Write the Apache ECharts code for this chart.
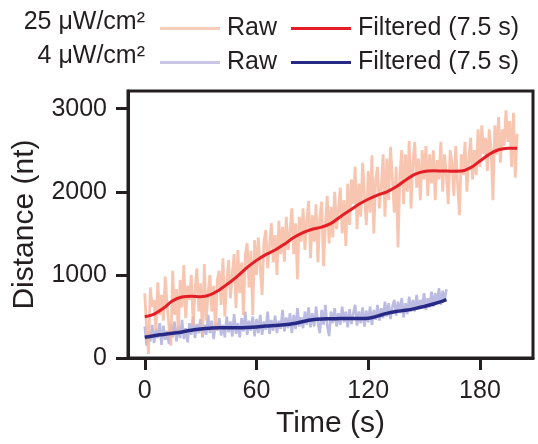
<!DOCTYPE html>
<html>
<head>
<meta charset="utf-8">
<script src="https://cdn.jsdelivr.net/npm/echarts@6/dist/echarts.min.js"></script>
<style>html,body{margin:0;padding:0;background:#fff}#c{width:538px;height:444px}</style>
</head>
<body>
<div id="c"></div>
<script>
// ---- data ----
const xTicks = [0, 60, 120, 180];
const yTicks = [0, 1000, 2000, 3000];
const legendRows = ['25 μW/cm²', '4 μW/cm²'];
const seriesNames = ['25 Raw', '25 Filtered', '4 Raw', '4 Filtered'];

// raw 25 µW/cm², one sample per second, t = 0..200
const raw25 = [
  780, 350, 50, 850, 620,   700, 330, 910, 520, 760,
  450, 980, 640, 380, 150,  1050, 520, 830, 300, 940,
  610, 1120, 480, 870, 700, 1000, 390, 820, 1080, 560,
  900, 260, 1130, 450, 780, 1000, 560, 870, 330, 950,
  1050, 640, 1200, 500, 900, 1180, 720, 1010, 1250, 600,
  1300, 780, 1150, 520, 1240, 1380, 850, 1290, 520, 1420,
  1000, 1450, 1100, 760, 1400, 1540, 1080, 1350, 1620, 1150,
  1480, 1000, 1650, 1250, 1580, 1160, 1700, 1300, 1520, 1800,
  1250, 1620, 950, 1700, 1400, 1800, 1300, 1650, 1890, 1200,
  1720, 1400, 1850, 1150, 1690, 1880, 1106, 1600, 1950, 1380,
  1820, 1450, 2000, 1550, 1780, 2050, 1500, 1900, 1350, 2100,
  1600, 2150, 1850, 2300, 1550, 2100, 1700, 2350, 1950, 1600,
  2250, 1750, 2440, 1500, 2150, 2300, 1800, 2050, 2450, 1700,
  2400, 1900, 2540, 2150, 1750, 2300, 1330, 2200, 2500, 1850,
  2450, 2000, 2610, 1800, 2350, 2600, 2050, 2400, 1900, 2500,
  2150, 2550, 1950, 2450, 2100, 2500, 1900, 2380, 2150, 2600,
  2000, 2450, 2200, 1850, 2500, 2350, 1950, 2550, 2100, 1720,
  2450, 2200, 2600, 2000, 2380, 2650, 2150, 2500, 2200, 2750,
  2300, 2800, 2450, 2650, 2250, 2750, 2500, 1900, 2800, 2450,
  2900, 2350, 2750, 2550, 2980, 2600, 2850, 2300, 2950, 2170,
  2700
];

// raw 4 µW/cm², one sample per second, t = 0..162
const raw4 = [
  380, 150, 320, 200, 400,  180, 350, 240, 420, 160,
  390, 220, 330, 170, 410,  250, 440, 200, 380, 240,
  460, 230, 360, 190, 420,  280, 500, 240, 410, 300,
  470, 250, 400, 280, 520,  300, 450, 230, 420, 330,
  480, 270, 400, 250, 500,  310, 440, 260, 530, 290,
  420, 250, 480, 320, 560,  280, 450, 330, 500, 260,
  470, 300, 520, 280, 440,  340, 560, 290, 460, 330,
  510, 300, 450, 350, 580,  320, 490, 360, 540, 300,
  520, 350, 600, 380, 490,  360, 560, 400, 610, 370,
  540, 380, 620, 420, 300,  580, 400, 640, 390, 265,
  560, 420, 600, 380, 540,  400, 620, 430, 560, 370,
  590, 410, 540, 640, 390,  560, 420, 610, 380, 570,
  430, 620, 400, 580, 460,  640, 450, 600, 480, 680,
  500, 660, 470, 620, 700,  510, 680, 540, 720, 490,
  660, 530, 740, 560, 700,  560, 760, 590, 700, 620,
  780, 580, 720, 610, 800,  620, 780, 660, 840, 640,
  810, 680, 830
];

// filtered (7.5 s) curves
const filt25T = [0,5,10,15,20,25,30,35,40,45,50,55,60,65,70,75,80,85,90,95,100,105,110,115,120,125,130,135,140,145,150,155,160,165,170,175,180,185,190,195,200];
const filt25V = [498,530,600,690,735,745,738,760,820,900,990,1090,1175,1245,1300,1370,1450,1510,1550,1575,1620,1700,1775,1850,1910,1960,2000,2060,2140,2210,2245,2252,2250,2248,2250,2290,2370,2450,2505,2525,2525];
const filt4T = [0,5,10,15,20,25,30,35,40,45,50,55,60,65,70,75,80,85,90,95,100,105,110,115,120,125,130,135,140,145,150,155,160,162];
const filt4V = [251,270,285,300,315,335,350,360,365,365,365,368,375,385,392,400,415,440,460,470,473,475,476,477,480,505,538,560,575,595,620,650,685,702];

// ---- chart ----
const FONT = "'Liberation Sans', Arial, Helvetica, sans-serif";
const INK = '#231f20';
const C = {
  raw25: 'rgb(246,182,156)', raw25Leg: '#f9cdbb',
  filt25: '#e41e26',
  raw4: 'rgb(166,166,218)', raw4Leg: '#c8c8e6',
  filt4: '#262a86'
};
const pairs = (ts, vs) => vs.map((v, i) => [ts[i], v]);
const idx = vs => vs.map((v, i) => [i, v]);
const label = n => n.indexOf('Raw') >= 0 ? 'Raw' : 'Filtered (7.5 s)';

const chart = echarts.init(document.getElementById('c'), null, {renderer: 'canvas'});
const legendCommon = {
  orient: 'horizontal', left: 155, itemWidth: 60, itemHeight: 3, itemGap: 14,
  icon: 'rect', selectedMode: false, formatter: label,
  textStyle: {fontFamily: FONT, fontSize: 25, color: INK, padding: [0, 0, 0, 2]}
};
chart.setOption({
  animation: false,
  grid: {left: 128, right: 5, top: 91, bottom: 80, show: true, borderColor: INK, borderWidth: 3, containLabel: false},
  legend: [
    Object.assign({}, legendCommon, {top: 11, data: [
      {name: seriesNames[0], itemStyle: {color: C.raw25Leg}},
      {name: seriesNames[1], itemStyle: {color: C.filt25}}]}),
    Object.assign({}, legendCommon, {top: 45, data: [
      {name: seriesNames[2], itemStyle: {color: C.raw4Leg}},
      {name: seriesNames[3], itemStyle: {color: C.filt4}}]})
  ],
  graphic: legendRows.map((t, i) => ({
    type: 'text', right: 538 - 145, top: i === 0 ? 10 : 44,
    style: {text: t, fontFamily: FONT, fontSize: 25, fill: INK, textAlign: 'right'}
  })),
  xAxis: {
    type: 'value', min: -9, max: 208.5,
    name: 'Time (s)', nameLocation: 'middle', nameGap: 46,
    nameTextStyle: {fontFamily: FONT, fontSize: 30, color: INK},
    axisLine: {show: true, onZero: false, lineStyle: {color: INK, width: 3}},
    axisTick: {show: true, length: 12, lineStyle: {color: INK, width: 3}, customValues: xTicks},
    axisLabel: {fontFamily: FONT, fontSize: 25, color: INK, margin: 21, customValues: xTicks,
                formatter: v => String(v)},
    splitLine: {show: false}
  },
  yAxis: {
    type: 'value', min: 0, max: 3212,
    name: 'Distance (nt)', nameLocation: 'middle', nameGap: 88,
    nameTextStyle: {fontFamily: FONT, fontSize: 30, color: INK},
    axisLine: {show: true, onZero: false, lineStyle: {color: INK, width: 3}},
    axisTick: {show: true, length: 12, lineStyle: {color: INK, width: 3}, customValues: yTicks},
    axisLabel: {fontFamily: FONT, fontSize: 25, color: INK, margin: 21, customValues: yTicks,
                formatter: v => String(v)},
    splitLine: {show: false}
  },
  series: [
    {name: seriesNames[2], type: 'line', data: idx(raw4), showSymbol: false, symbol: 'none',
     lineStyle: {color: C.raw4, width: 2.6, opacity: 0.75}, itemStyle: {color: C.raw4Leg}, z: 1},
    {name: seriesNames[0], type: 'line', data: idx(raw25), showSymbol: false, symbol: 'none',
     lineStyle: {color: C.raw25, width: 2.8, opacity: 0.8}, itemStyle: {color: C.raw25Leg}, z: 2},
    {name: seriesNames[1], type: 'line', data: pairs(filt25T, filt25V), showSymbol: false, symbol: 'none', smooth: 0.4,
     lineStyle: {color: C.filt25, width: 3}, itemStyle: {color: C.filt25}, z: 3},
    {name: seriesNames[3], type: 'line', data: pairs(filt4T, filt4V), showSymbol: false, symbol: 'none', smooth: 0.4,
     lineStyle: {color: C.filt4, width: 3.5}, itemStyle: {color: C.filt4}, z: 4}
  ]
});
</script>
</body>
</html>
